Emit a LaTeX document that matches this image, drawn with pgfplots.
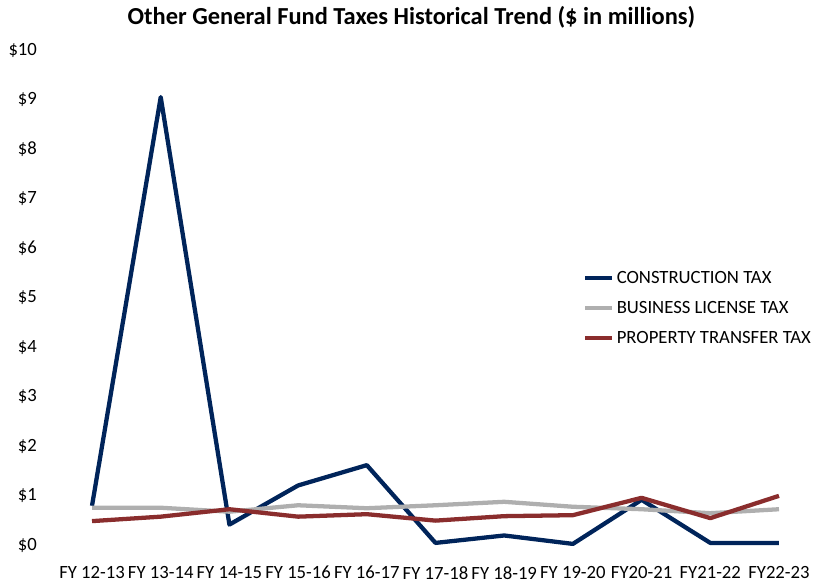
\documentclass[border=0pt]{standalone}
\usepackage{fontspec}
\setmainfont{Carlito}
\usepackage{pgfplots}
\pgfplotsset{compat=1.18}
\definecolor{constr}{RGB}{0,36,90}
\definecolor{business}{RGB}{175,175,175}
\definecolor{property}{RGB}{138,45,45}

\pgfplotstableread{
idx constr business property
0  0.80 0.76 0.49
1  9.05 0.76 0.58
2  0.42 0.68 0.73
3  1.21 0.81 0.58
4  1.62 0.75 0.63
5  0.05 0.81 0.50
6  0.20 0.88 0.59
7  0.03 0.78 0.61
8  0.92 0.73 0.96
9  0.05 0.65 0.55
10 0.05 0.73 1.00
}\taxes

\begin{document}
\begin{tikzpicture}
\begin{axis}[
  name=ax,
  scale only axis,
  width=566pt,height=371pt,
  xmin=-0.5,xmax=10.5,
  ymin=0,ymax=10,
  axis line style={draw=none},
  major tick length=0pt,
  xtick={0,...,10},
  xticklabels={FY 12-13,FY 13-14,FY 14-15,FY 15-16,FY 16-17,FY 17-18,
    FY 18-19,FY 19-20,FY20-21,FY21-22,FY22-23},
  ytick={0,...,10},
  yticklabels={\$0,\$1,\$2,\$3,\$4,\$5,\$6,\$7,\$8,\$9,\$10},
  tick label style={font=\fontsize{14}{16}\selectfont},
  xticklabel style={yshift=-14.5pt,inner sep=1pt},
  yticklabel style={xshift=-12pt},
  title={\bfseries Other General Fund Taxes Historical Trend (\$ in millions)},
  title style={font=\fontsize{18.3}{22}\selectfont,yshift=7pt,xshift=-18pt},
  legend style={draw=none,fill=none,at={(0.695,0.56)},anchor=north west,
    font=\fontsize{14}{16}\selectfont,row sep=8pt,
    inner sep=0pt,cells={anchor=west}},
  legend image code/.code={\draw[#1] (0pt,0pt) -- (20pt,0pt);},
  every axis plot/.append style={line width=3.2pt,line join=round},
]
\addplot[constr] table[x=idx,y=constr]{\taxes};
\addplot[business] table[x=idx,y=business]{\taxes};
\addplot[property] table[x=idx,y=property]{\taxes};
\legend{CONSTRUCTION TAX,BUSINESS LICENSE TAX,PROPERTY TRANSFER TAX}
\end{axis}
\path ([shift={(-43.2pt,-28.5pt)}]ax.south west) rectangle ([shift={(0.5pt,37.5pt)}]ax.north east);
\end{tikzpicture}
\end{document}
